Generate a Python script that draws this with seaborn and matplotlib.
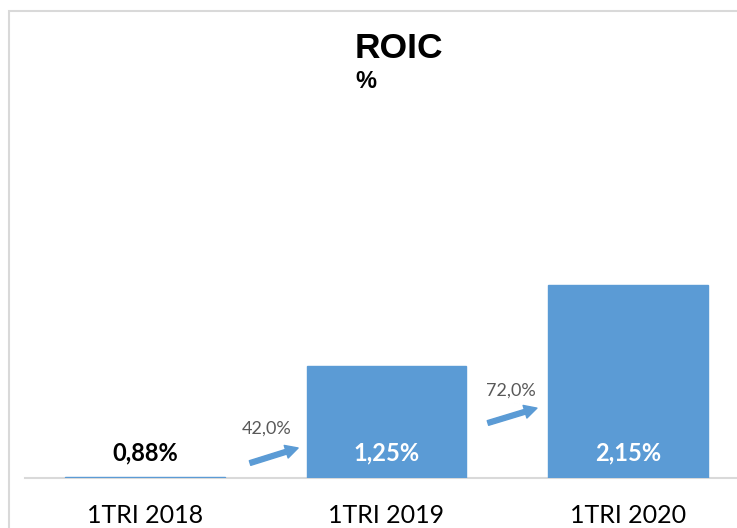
import matplotlib
matplotlib.use("Agg")
import matplotlib.pyplot as plt
import seaborn as sns
import pandas as pd
from matplotlib.patches import Rectangle

# ---- data ----
categories = ["1TRI 2018", "1TRI 2019", "1TRI 2020"]
bar_heights = [0.0088, 1.25, 2.15]          # plotted heights (2018 appears as a hairline)
value_labels = ["0,88%", "1,25%", "2,15%"]
growth_labels = ["42,0%", "72,0%"]

sns.set_style("white")
plt.rcParams["font.family"] = ["Lato", "DejaVu Sans"]

W, H = 737, 528
fig = plt.figure(figsize=(W / 100, H / 100), dpi=100)
fig.patch.set_facecolor("white")

# axes geometry in pixels
left_px, base_px, top_px = 25, 478, 20
spacing_px, first_center_px, unit_px = 241.5, 145, 89.6
ax = fig.add_axes([left_px / W, (H - base_px) / H, (W - left_px) / W, (base_px - top_px) / H])

df = pd.DataFrame({"cat": categories, "val": bar_heights})
sns.barplot(data=df, x="cat", y="val", color="#5B9BD5", saturation=1, width=0.66,
            linewidth=1.0, edgecolor="#5B9BD5", ax=ax)

ax.set_xlim(-(first_center_px - left_px) / spacing_px, (W - first_center_px) / spacing_px)
ax.set_ylim(0, (base_px - top_px) / unit_px)

for s in ["top", "left", "right"]:
    ax.spines[s].set_visible(False)
ax.spines["bottom"].set_color("#D9D9D9")
ax.spines["bottom"].set_linewidth(1.5)
ax.spines["bottom"].set_zorder(0.5)
ax.set_yticks([])
ax.set_xlabel("")
ax.set_ylabel("")
ax.tick_params(axis="x", length=0, pad=19, labelsize=18, labelcolor="#000000")

# value labels
label_y = (base_px - 453) / unit_px
for i, lab in enumerate(value_labels):
    col = "black" if i == 0 else "white"
    ax.text(i, label_y, lab, ha="center", va="center", fontsize=17,
            fontweight="bold", color=col)

# growth arrows and labels
arrow_geo = [((0.435, 0.167), (0.634, 0.335), (0.505, 0.547)),
             ((1.42, 0.614), (1.623, 0.78), (1.516, 0.971))]
for (start, end, txt), glab in zip(arrow_geo, growth_labels):
    ax.annotate("", xy=end, xytext=start,
                arrowprops=dict(arrowstyle="simple,head_length=0.9,head_width=0.95,tail_width=0.35",
                                color="#5B9BD5", shrinkA=0, shrinkB=0, mutation_scale=10))
    ax.text(txt[0], txt[1], glab, ha="center", va="center", fontsize=13, color="#595959")

# title
title_font = ["Liberation Sans Narrow", "Liberation Sans", "DejaVu Sans"]
fig.text(355 / W, (H - 58) / H, "ROIC", ha="left", va="baseline", fontsize=25.5,
         fontweight="bold", family=title_font, color="black")
fig.text(355 / W, (H - 88) / H, "%", ha="left", va="baseline", fontsize=17,
         fontweight="bold", family=title_font, color="black")

# chart border (cropped)
fig.add_artist(Rectangle((9 / W, -0.1), 1.2, (H - 11) / H + 0.1, transform=fig.transFigure,
                         fill=False, edgecolor="#D9D9D9", linewidth=1.5))

fig.savefig("out.png", dpi=100, facecolor="white")
